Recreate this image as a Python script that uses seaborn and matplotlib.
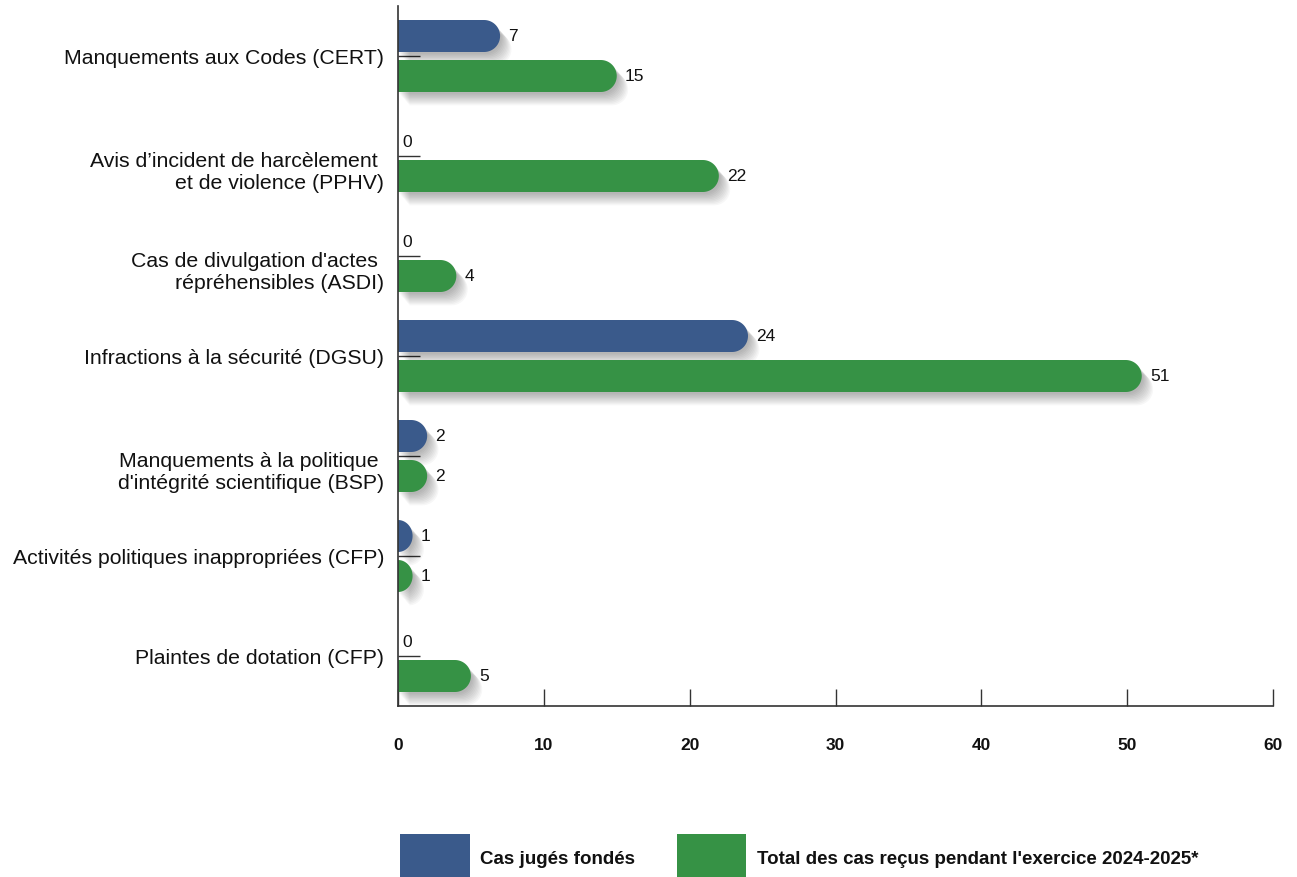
import numpy as np
import pandas as pd
import matplotlib
matplotlib.use("Agg")
import matplotlib.pyplot as plt
import seaborn as sns
from matplotlib.path import Path
from matplotlib.patches import PathPatch, Rectangle
from matplotlib.transforms import ScaledTranslation
import matplotlib.patheffects as pe

categories = [
    "Manquements aux Codes (CERT)",
    "Avis d\u2019incident de harc\u00e8lement \net de violence (PPHV)",
    "Cas de divulgation d'actes \nr\u00e9pr\u00e9hensibles (ASDI)",
    "Infractions \u00e0 la s\u00e9curit\u00e9 (DGSU)",
    "Manquements \u00e0 la politique \nd'int\u00e9grit\u00e9 scientifique (BSP)",
    "Activit\u00e9s politiques inappropri\u00e9es (CFP)",
    "Plaintes de dotation (CFP)",
]
cas_fondes = [7, 0, 0, 24, 2, 1, 0]
total_recus = [15, 22, 4, 51, 2, 1, 5]
series_names = ["Cas jug\u00e9s fond\u00e9s", "Total des cas re\u00e7us pendant l'exercice 2024-2025*"]
xticks = [0, 10, 20, 30, 40, 50, 60]

BLUE = "#3a5a8b"
GREEN = "#369245"

df = pd.DataFrame({
    "cat": categories * 2,
    "val": cas_fondes + total_recus,
    "serie": [series_names[0]] * len(categories) + [series_names[1]] * len(categories),
})

sns.set_theme(style="white")
plt.rcParams["font.family"] = ["Liberation Sans", "DejaVu Sans"]

W, H = 1297, 878
fig = plt.figure(figsize=(W / 100, H / 100), dpi=100)
ax = fig.add_axes([398 / W, 1 - 707 / H, (1273 - 398) / W, 700 / H])

sns.barplot(data=df, y="cat", x="val", hue="serie", hue_order=series_names,
            palette=[BLUE, GREEN], orient="h", width=0.8, gap=0.2,
            legend=False, ax=ax, saturation=1)

ax.set_xlim(0, 60)
ax.set_ylim(6.5, -0.5)

# replace rectangles by bars with rounded right ends
fig.canvas.draw()
px_per_x = ax.transData.transform((1, 0))[0] - ax.transData.transform((0, 0))[0]
px_per_y = abs(ax.transData.transform((0, 1))[1] - ax.transData.transform((0, 0))[1])

rects = list(ax.patches)
shadow = [pe.SimplePatchShadow(offset=(1.0 + i * 0.8, -1.5 - i * 0.9), shadow_rgbFace="black", alpha=0.03)
          for i in range(10)] + [pe.Normal()]
for r in rects:
    x0, y0 = r.get_x(), r.get_y()
    w, h = r.get_width(), r.get_height()
    col = r.get_facecolor()
    r.remove()
    if w <= 0:
        continue
    ry = h / 2
    rx = min(ry * px_per_y / px_per_x, w)
    xc = x0 + w - rx
    yc = y0 + h / 2
    t = np.linspace(-np.pi / 2, np.pi / 2, 40)
    arc = np.column_stack([xc + rx * np.cos(t), yc + ry * np.sin(t)])
    verts = np.vstack([[x0, y0], arc, [x0, y0 + h], [x0, y0]])
    codes = [Path.MOVETO] + [Path.LINETO] * (len(verts) - 2) + [Path.CLOSEPOLY]
    patch = PathPatch(Path(verts, codes), facecolor=col, edgecolor="none", zorder=3)
    patch.set_path_effects(shadow)
    ax.add_patch(patch)

# value labels
for i in range(len(categories)):
    for j, vals in enumerate([cas_fondes, total_recus]):
        yc = i - 0.2 + 0.4 * j
        off = (6, 0) if vals[i] > 0 else (3, -4)
        ax.annotate(str(vals[i]), xy=(vals[i], yc), xytext=off, textcoords="offset points",
                    ha="left", va="center", fontsize=12.5, color="#111111", zorder=4)

# axes styling
for s in ["top", "right"]:
    ax.spines[s].set_visible(False)
for s in ["left", "bottom"]:
    ax.spines[s].set_color("#333333")
    ax.spines[s].set_linewidth(1.2)
    ax.spines[s].set_zorder(5)

ax.set_xticks(xticks)
ax.set_xticklabels([str(v) for v in xticks], fontweight="bold", fontsize=12.5)
ax.tick_params(axis="x", direction="in", length=12, width=1, color="#333333", pad=22, bottom=True,
               labelcolor="#111111")
ax.tick_params(axis="y", direction="in", length=16, width=1, color="#333333", pad=10, left=True,
               labelsize=15.3, labelcolor="#111111")
shift = ScaledTranslation(0, -12 / 100, fig.dpi_scale_trans)
for lab in ax.get_yticklabels():
    lab.set_horizontalalignment("right")
    lab.set_multialignment("right")
    if "\n" in lab.get_text():
        lab.set_linespacing(1.2)
        lab.set_transform(lab.get_transform() + shift)
ax.set_xlabel("")
ax.set_ylabel("")
ax.grid(False)

# legend (drawn manually at the bottom, partially cut by the figure edge as in the reference)
for x0, x1, col, tx, name in [(400, 470, BLUE, 480, series_names[0]),
                              (677, 746, GREEN, 757, series_names[1])]:
    fig.add_artist(Rectangle((x0 / W, 0), (x1 - x0) / W, (H - 835) / H,
                             transform=fig.transFigure, facecolor=col, edgecolor="none"))
    fig.text(tx / W, 1 - 860 / H, name, ha="left", va="center", fontsize=13.5,
             fontweight="bold", color="#111111")

fig.savefig("out.png", dpi=100, facecolor="white")
